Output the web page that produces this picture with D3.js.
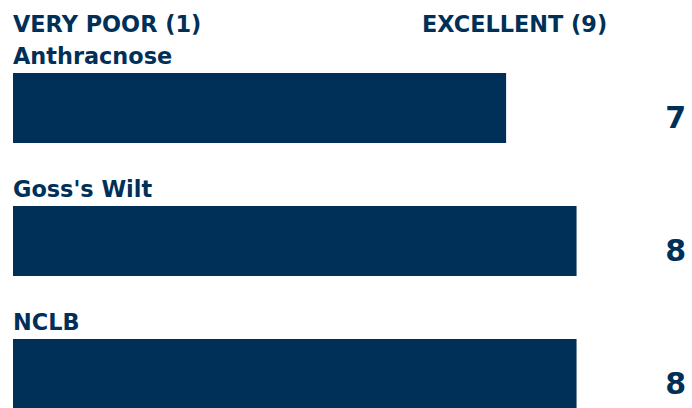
<!DOCTYPE html>
<html>
<head>
<meta charset="utf-8">
<script src="https://cdn.jsdelivr.net/npm/d3@7"></script>
<style>
  html, body { margin: 0; padding: 0; background: #fff; }
  svg { display: block; }
  text { font-family: "DejaVu Sans", sans-serif; font-weight: bold; fill: #003057; }
</style>
</head>
<body>
<svg id="chart" width="692" height="408"></svg>
<script>
const categories = ["Anthracnose", "Goss's Wilt", "NCLB"];
const ratings = [7, 8, 8];
const scaleLabels = ["VERY POOR (1)", "EXCELLENT (9)"];
const scaleDomain = [0, 9];

const svg = d3.select("#chart");
const color = "#003057";
const left = 13;

const x = d3.scaleLinear().domain(scaleDomain).range([0, 634]);
const y = d3.scaleBand().domain(categories).range([40, 439]).paddingInner(0).paddingOuter(0);
const barTop = d => y(d) + 33;
const barH = 70;

svg.append("text").attr("x", left).attr("y", 32).attr("font-size", 22.4).text(scaleLabels[0]);
svg.append("text").attr("x", 422).attr("y", 32).attr("font-size", 22.4).text(scaleLabels[1]);

const rows = svg.selectAll("g.row").data(categories).join("g").attr("class", "row");

rows.append("text")
  .attr("x", left)
  .attr("y", d => barTop(d) - 9)
  .attr("font-size", 22.4)
  .text(d => d);

rows.append("rect")
  .attr("x", left)
  .attr("y", d => barTop(d))
  .attr("width", (d, i) => x(ratings[i]))
  .attr("height", barH)
  .attr("fill", color);

rows.append("text")
  .attr("x", 686)
  .attr("y", d => barTop(d) + barH / 2 + 20)
  .attr("text-anchor", "end")
  .attr("font-size", 30)
  .text((d, i) => ratings[i]);
</script>
</body>
</html>
